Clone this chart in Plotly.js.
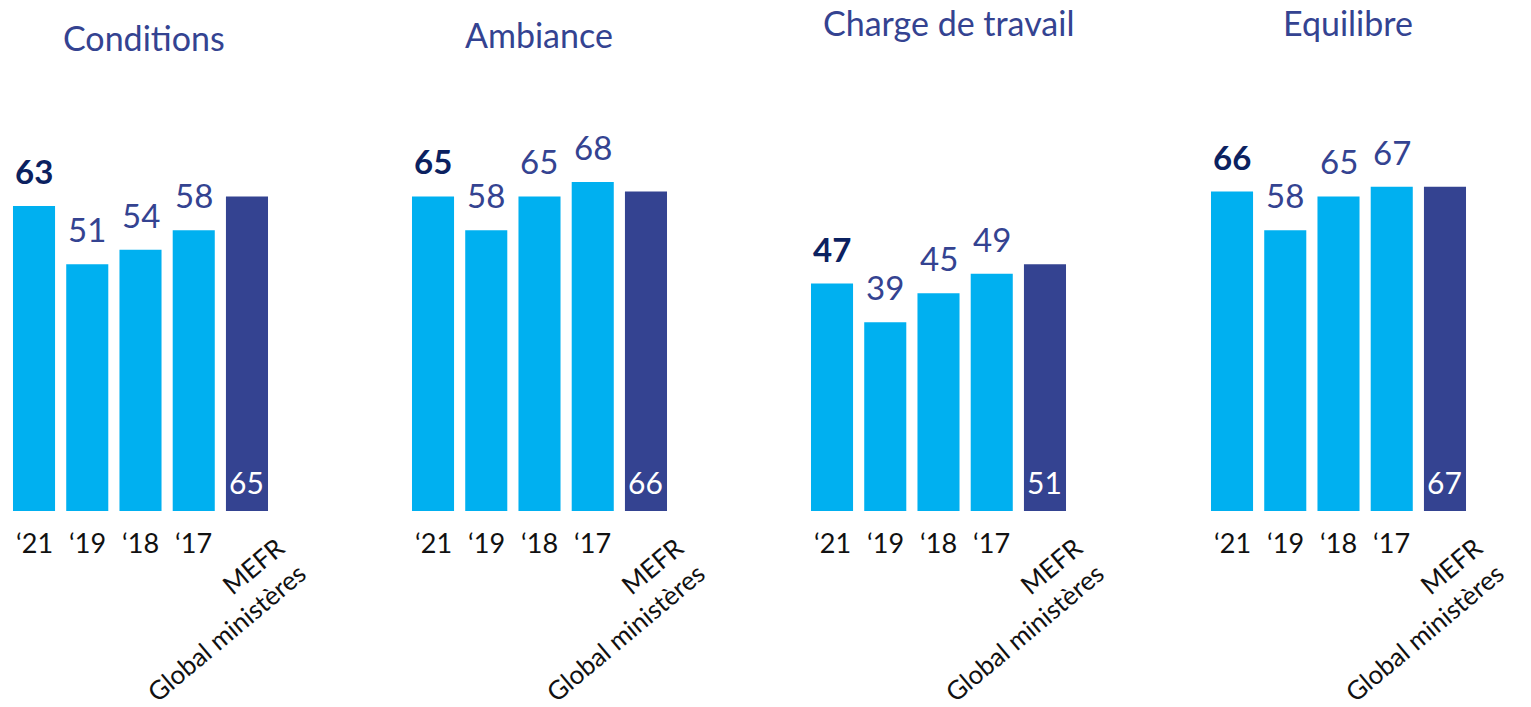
<!DOCTYPE html>
<html>
<head>
<meta charset="utf-8">
<script src="https://cdn.plot.ly/plotly-3.0.1.min.js"></script>
<style>
  html, body { margin: 0; padding: 0; background: #fff; }
  #chart { width: 1531px; height: 707px; }
</style>
</head>
<body>
<div id="chart"></div>
<script>
// panels and their values: '21, '19, '18, '17, MEFR global ministeres
const panelTitles = ['Conditions', 'Ambiance', 'Charge de travail', 'Equilibre'];
const categories = ['y21', 'y19', 'y18', 'y17', 'mefr'];
const yearLabels = ['\u201821', '\u201819', '\u201818', '\u201817'];
const mefrLabel = 'MEFR<br>Global ministères';

const conditions = [63, 51, 54, 58, 65];
const ambiance = [65, 58, 65, 68, 66];
const charge = [47, 39, 45, 49, 51];
const equilibre = [66, 58, 65, 67, 67];
const panelValues = [conditions, ambiance, charge, equilibre];

// layout helpers (pixels)
const W = 1531, H = 707;
const baseY = 511, plotTop = 27;
const panelLeft = [7.4, 406.4, 805.4, 1205.4];
const panelWidth = 266.2;
const titleY = [38, 35, 22, 22];
const titleShift = [3, 0, 10, 9];

const lightBlue = '#00B0F0';
const darkBlue = '#344391';
const navy = '#0B2160';
const font = 'Lato, "Open Sans", sans-serif';

function pxToPaperY(py) {
    return (baseY - py) / (baseY - plotTop);
}

const traces = [];
const annotations = [];
const layout = {
    width: W,
    height: H,
    margin: { l: 0, r: 0, t: plotTop, b: H - baseY },
    paper_bgcolor: '#fff',
    plot_bgcolor: '#fff',
    showlegend: false,
    bargap: 0.21,
    font: { family: font },
    yaxis: {
        range: [0, 100],
        visible: false,
        fixedrange: true
    },
    annotations: annotations
};

panelValues.forEach((vals, p) => {
    const ax = p === 0 ? 'x' : 'x' + (p + 1);
    const axKey = p === 0 ? 'xaxis' : 'xaxis' + (p + 1);

    layout[axKey] = {
        domain: [panelLeft[p] / W, (panelLeft[p] + panelWidth) / W],
        type: 'category',
        categoryorder: 'array',
        categoryarray: categories,
        range: [-0.5, categories.length - 0.5],
        showticklabels: false,
        showgrid: false,
        zeroline: false,
        showline: false,
        ticks: '',
        anchor: 'y',
        fixedrange: true
    };

    traces.push({
        type: 'bar',
        x: categories,
        y: vals,
        xaxis: ax,
        yaxis: 'y',
        marker: { color: vals.map((v, i) => i === 4 ? darkBlue : lightBlue) },
        hoverinfo: 'skip'
    });

    // panel title
    annotations.push({
        text: panelTitles[p],
        xref: ax + ' domain',
        x: 0.5,
        xshift: titleShift[p],
        yref: 'paper',
        y: pxToPaperY(titleY[p]),
        xanchor: 'center',
        yanchor: 'middle',
        showarrow: false,
        font: { family: font, size: 34, color: darkBlue }
    });

    // values
    vals.forEach((v, i) => {
        if (i < 4) {
            annotations.push({
                text: i === 0 ? '<b>' + v + '</b>' : String(v),
                xref: ax,
                x: categories[i],
                yref: 'y',
                y: v,
                xanchor: 'center',
                yanchor: 'bottom',
                yshift: 13,
                showarrow: false,
                font: { family: font, size: 33, color: i === 0 ? navy : darkBlue }
            });
        } else {
            annotations.push({
                text: String(v),
                xref: ax,
                x: categories[i],
                yref: 'y',
                y: 0,
                xanchor: 'center',
                yanchor: 'bottom',
                yshift: 9,
                showarrow: false,
                font: { family: font, size: 30, color: '#ffffff' }
            });
        }
    });

    // category labels
    yearLabels.forEach((lab, i) => {
        annotations.push({
            text: lab,
            xref: ax,
            x: categories[i],
            yref: 'paper',
            y: pxToPaperY(542),
            xanchor: 'center',
            yanchor: 'middle',
            showarrow: false,
            font: { family: font, size: 27, color: '#111111' }
        });
    });

    annotations.push({
        text: mefrLabel,
        align: 'right',
        textangle: -40,
        xref: ax,
        x: categories[4],
        xshift: -31,
        yref: 'paper',
        y: pxToPaperY(619),
        xanchor: 'center',
        yanchor: 'middle',
        showarrow: false,
        font: { family: font, size: 26, color: '#111111' }
    });
});

Plotly.newPlot('chart', traces, layout, { staticPlot: true, displayModeBar: false });
</script>
</body>
</html>
